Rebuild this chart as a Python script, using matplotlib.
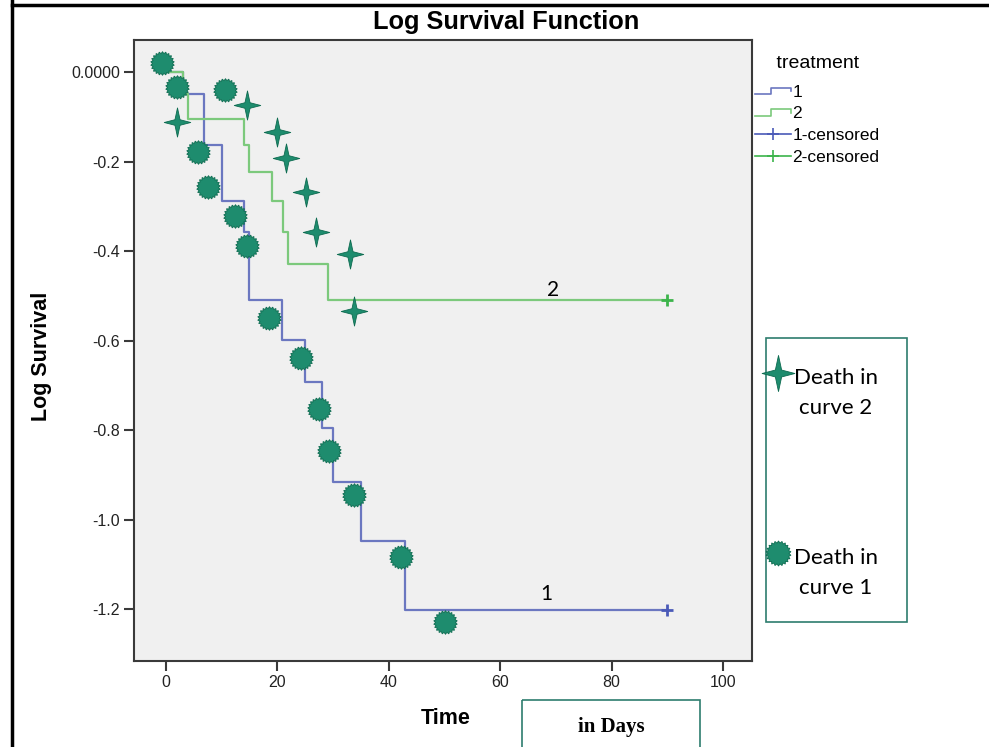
import numpy as np
import matplotlib
matplotlib.use("Agg")
import matplotlib.pyplot as plt
from matplotlib.path import Path
from matplotlib.lines import Line2D
from matplotlib.patches import Rectangle
from matplotlib.legend_handler import HandlerBase

# step curves (time in days, log survival)
t1 = [0, 3.05, 6.8, 10.05, 14.0, 14.9, 20.9, 24.95, 27.95, 29.9, 34.95, 42.9, 90]
s1 = [0, -0.049, -0.163, -0.288, -0.357, -0.510, -0.599, -0.692, -0.796, -0.915, -1.047, -1.202, -1.202]
t2 = [0, 3.05, 3.9, 14.0, 14.9, 19.0, 21.0, 21.9, 29.1, 90]
s2 = [0, -0.049, -0.105, -0.163, -0.223, -0.288, -0.357, -0.429, -0.510, -0.510]
cens1 = (90, -1.202)
cens2 = (90, -0.510)

# hand-placed "death" symbols
death2_t = [1.9, 14.6, 19.9, 21.6, 25.1, 26.9, 33.0, 33.8]
death2_v = [-0.111, -0.074, -0.135, -0.193, -0.267, -0.358, -0.407, -0.533]
death1_t = [-0.7, 1.9, 10.6, 5.8, 7.6, 12.4, 14.6, 18.4, 24.2, 27.5, 29.3, 33.8, 42.1, 50.1]
death1_v = [0.019, -0.033, -0.040, -0.178, -0.256, -0.322, -0.389, -0.550, -0.640,
            -0.752, -0.846, -0.945, -1.083, -1.228]

xticks = [0, 20, 40, 60, 80, 100]
yticks = [0, -0.2, -0.4, -0.6, -0.8, -1.0, -1.2]
ylabels = ["0.0000", "-0.2", "-0.4", "-0.6", "-0.8", "-1.0", "-1.2"]

BLUE = "#6b77c0"
GREEN = "#7cc97c"
TEAL = "#1e8c6e"
TEAL_EDGE = "#0d6b50"


def star(n, inner, ystretch=1.0):
    a = np.linspace(0, 2 * np.pi, 2 * n, endpoint=False) + np.pi / 2
    r = np.where(np.arange(2 * n) % 2 == 0, 1.0, inner)
    v = np.column_stack([r * np.cos(a), r * np.sin(a) * ystretch])
    return Path(np.vstack([v, v[:1]]), closed=True)


SUN = star(22, 0.84)
STAR4 = star(4, 0.27, 1.1)


class StepHandler(HandlerBase):
    def create_artists(self, legend, orig, x0, y0, w, h, fontsize, trans):
        xs = [x0, x0 + 0.45 * w, x0 + 0.45 * w, x0 + w, x0 + w]
        ys = [y0 + 0.2 * h, y0 + 0.2 * h, y0 + 0.75 * h, y0 + 0.75 * h, y0 + 0.45 * h]
        ln = Line2D(xs, ys, color=orig.get_color(), lw=1.2, transform=trans)
        return [ln]


fig = plt.figure(figsize=(9.89, 7.47), dpi=100)
W, H = 989, 747
ax = fig.add_axes([134 / W, 1 - 661 / H, (752 - 134) / W, (661 - 40) / H])
ax.set_facecolor("#f0f0f0")

l1, = ax.step(t1, s1, where="post", color=BLUE, lw=1.6, zorder=2)
l2, = ax.step(t2, s2, where="post", color=GREEN, lw=1.6, zorder=3)
ax.plot(*cens1, marker="+", color="#4a5ab8", ms=9, mew=2, zorder=4)
ax.plot(*cens2, marker="+", color="#3cb44b", ms=9, mew=2, zorder=4)

ax.plot(death2_t, death2_v, ls="none", marker=STAR4, ms=21, color=TEAL,
        mec=TEAL_EDGE, mew=0.6, zorder=5)
ax.plot(death1_t, death1_v, ls="none", marker=SUN, ms=17, color=TEAL,
        mec=TEAL_EDGE, mew=0.6, zorder=5)

ax.text(69.5, -0.487, "2", fontsize=15, family="Lato", ha="center", va="center")
ax.text(68.2, -1.166, "1", fontsize=15, family="Lato", ha="center", va="center")

ax.set_xlim(-5.75, 105.2)
ax.set_ylim(-1.316, 0.0715)
ax.set_xticks(xticks)
ax.set_xticklabels([str(x) for x in xticks])
ax.set_yticks(yticks)
ax.set_yticklabels(ylabels)
for sp in ax.spines.values():
    sp.set_color("#3a3a3a")
    sp.set_linewidth(1.5)
ax.tick_params(direction="out", length=7, width=1.5, color="#3a3a3a",
               labelsize=11.5, labelcolor="#222222", pad=3)
for lab in ax.get_xticklabels() + ax.get_yticklabels():
    lab.set_family("Liberation Sans")

fig.text(506 / W, 1 - 22 / H, "Log Survival Function", ha="center", va="center",
         fontsize=18.3, weight="bold", family="Liberation Sans")
fig.text(446 / W, 1 - 719 / H, "Time", ha="center", va="center",
         fontsize=15.5, weight="bold", family="Liberation Sans")
fig.text(42 / W, 1 - 356 / H, "Log Survival", ha="center", va="center", rotation=90,
         fontsize=15.5, weight="bold", family="Liberation Sans")

c1 = Line2D([], [], color="#4a5ab8", marker="+", ms=9, mew=1.2, lw=1.2)
c2 = Line2D([], [], color="#3cb44b", marker="+", ms=9, mew=1.2, lw=1.2)
leg = fig.legend([l1, l2, c1, c2], ["1", "2", "1-censored", "2-censored"],
                 title="    treatment", loc="upper left",
                 bbox_to_anchor=(755 / W, 1 - 55 / H), frameon=False,
                 prop={"family": "Liberation Sans", "size": 12.5},
                 title_fontproperties={"family": "Liberation Sans", "size": 14},
                 alignment="left", handlelength=2.1, handletextpad=0.05,
                 labelspacing=0.38, borderpad=0, borderaxespad=0,
                 handler_map={l1: StepHandler(), l2: StepHandler()})
leg._legend_box.sep = 9

# overlay in pixel coordinates for the annotation boxes and frame
ov = fig.add_axes([0, 0, 1, 1], facecolor="none")
ov.set_xlim(0, W)
ov.set_ylim(H, 0)
ov.axis("off")
ov.plot([12, 12], [0, H], color="black", lw=2.5)
ov.plot([12, W], [5, 5], color="black", lw=2.5)
ov.add_patch(Rectangle((766, 338), 141, 284, fill=False, ec="#2e7d6e", lw=1.2))
ov.add_patch(Rectangle((522, 700), 178, 80, fill=False, ec="#2e7d6e", lw=1.2))
ov.plot(778, 373, marker=STAR4, ms=26, color=TEAL, mec=TEAL_EDGE, mew=0.6)
ov.plot(778, 553, marker=SUN, ms=18, color=TEAL, mec=TEAL_EDGE, mew=0.6)
ov.text(836, 393, "Death in\ncurve 2", ha="center", va="center", fontsize=16,
        family="Lato", linespacing=1.65)
ov.text(836, 573, "Death in\ncurve 1", ha="center", va="center", fontsize=16,
        family="Lato", linespacing=1.65)
ov.text(611, 727, "in Days", ha="center", va="center", fontsize=15, weight="bold",
        family="Liberation Serif")

fig.savefig("out.png", dpi=100)
